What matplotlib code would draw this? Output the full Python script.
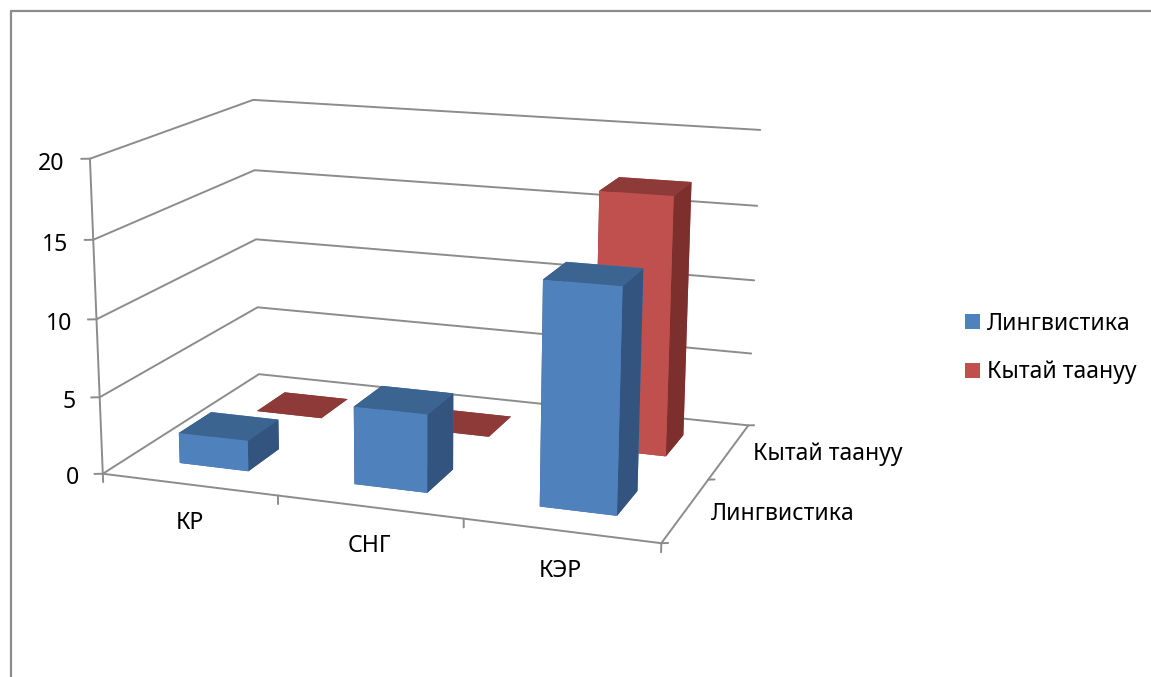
import numpy as np
import matplotlib
matplotlib.use("Agg")
import matplotlib.pyplot as plt
from matplotlib.patches import Patch
from matplotlib.lines import Line2D

categories = ["КР", "СНГ", "КЭР"]
series_names = ["Лингвистика", "Кытай таануу"]
lingvistika = [2, 5, 14]
kytai_taanuu = [0, 0, 17]
z_ticks = [0, 5, 10, 15, 20]

W, H = 1151, 677
GRID = "#8C8C8C"
FONT = "Noto Sans"
FS = 16.6
plt.rcParams["font.family"] = [FONT, "DejaVu Sans"]

fig = plt.figure(figsize=(W / 100, H / 100), dpi=100, facecolor="white")
ax = fig.add_axes([0, 0.5 - 0.5 * W / H, 1, W / H], projection="3d")
ax.set_axis_off()
ax.patch.set_visible(False)
ax.computed_zorder = False

# Camera fit: the chart's box corners (category, series, value) -> image pixels
calib = [
    ((0, 0, 0), (103, 474)), ((3, 0, 0), (661, 544)), ((3, 2, 0), (748, 424)),
    ((0, 2, 0), (259, 375)), ((0, 0, 20), (90, 159)), ((0, 2, 20), (253, 100)),
    ((3, 2, 20), (760, 130)), ((0, 0, 10), (96.5, 318)), ((0, 2, 10), (256, 239)),
    ((3, 2, 10), (755, 281)),
]
A = []
for (x, y, z), (u, v) in calib:
    A.append([x, y, z, 1, 0, 0, 0, 0, -u * x, -u * y, -u * z, -u])
    A.append([0, 0, 0, 0, x, y, z, 1, -v * x, -v * y, -v * z, -v])
P = np.linalg.svd(np.array(A, float))[2][-1].reshape(3, 4)
P = P / P[2, 3]


def camera():
    inv = ax.transData.inverted()
    (x0, y0), (x1, y1) = inv.transform([(0, H), (W, 0)])
    sx, tx = (x1 - x0) / W, x0
    sy, ty = (y1 - y0) / H, y0
    depth = np.array([-0.3, 1.0, -0.05, -10.0]) * 0.1
    return np.array([sx * P[0] + tx * P[2], sy * P[1] + ty * P[2], depth, P[2]])


ax.get_proj = camera

LINE = dict(color=GRID, lw=1.4, zorder=1, solid_capstyle="round")
nx, ny = len(categories), len(series_names)
# value gridlines over the left and back walls
for v in z_ticks:
    ax.plot([0, 0, nx], [0, ny, ny], [v, v, v], **LINE)
    ax.plot([-0.04, 0], [-0.018, 0], [v, v], **LINE)
ax.plot([0, 0], [0, 0], [0, z_ticks[-1]], **LINE)
# floor edges
ax.plot([0, nx, nx], [0, 0, ny], [0, 0, 0], **LINE)
for i in range(nx + 1):
    ax.plot([i, i], [0, 0], [0, -0.55], **LINE)
for j in range(ny + 1):
    ax.plot([nx, nx + 0.03], [j, j + 0.014], [0, 0], **LINE)


def faces(front, top, side):
    # bar3d face order: -Z, +Z, -Y, +Y, -X, +X
    return [top, top, front, front, side, side]


RED = faces("#C0504D", "#8E3A38", "#7C2F2D")
BLUE = faces("#4F81BD", "#3C6491", "#32547E")
width, pad = 0.4, 0.3
for k, (vals, cols) in enumerate([(kytai_taanuu, RED), (lingvistika, BLUE)]):
    yi = ny - 1 - k
    for i, v in enumerate(vals):
        ax.bar3d(i + pad, yi + pad, 0, width, width, v, color=cols, shade=False,
                 linewidth=0, zorder=10 + 10 * k + i)

# text labels
for v in z_ticks:
    ax.text(-0.115, -0.053, v - 0.27, str(v), ha="right", va="center", fontsize=FS, color="black")
for i, c in enumerate(categories):
    ax.text(i + 0.5, 0, -2.5, c, ha="center", va="center", fontsize=FS, color="black")
for j, s in enumerate(series_names):
    ax.text(nx + 0.158, j + 0.358, 0.55, s, ha="left", va="center", fontsize=FS, color="black")

handles = [Patch(facecolor="#4F81BD", edgecolor="none"), Patch(facecolor="#C0504D", edgecolor="none")]
fig.legend(handles, series_names, loc="center left", bbox_to_anchor=(965 / W, 1 - 348 / H),
           frameon=False, fontsize=FS, handlelength=0.65, handleheight=0.65,
           handletextpad=0.3, labelspacing=1.08, borderpad=0, borderaxespad=0)

# chart-area border
fig.add_artist(Line2D([10.5 / W, 10.5 / W, 1], [0, 1 - 11 / H, 1 - 11 / H],
                      transform=fig.transFigure, color=GRID, lw=1.6))

# the 3D axes' own (unused) axis artists carry no content here
ax.set_xticks([])
ax.set_yticks([])
ax.set_zticks([])
for axis in (ax.xaxis, ax.yaxis, ax.zaxis):
    axis.set_visible(False)

fig.savefig("out.png", dpi=100, facecolor="white")
